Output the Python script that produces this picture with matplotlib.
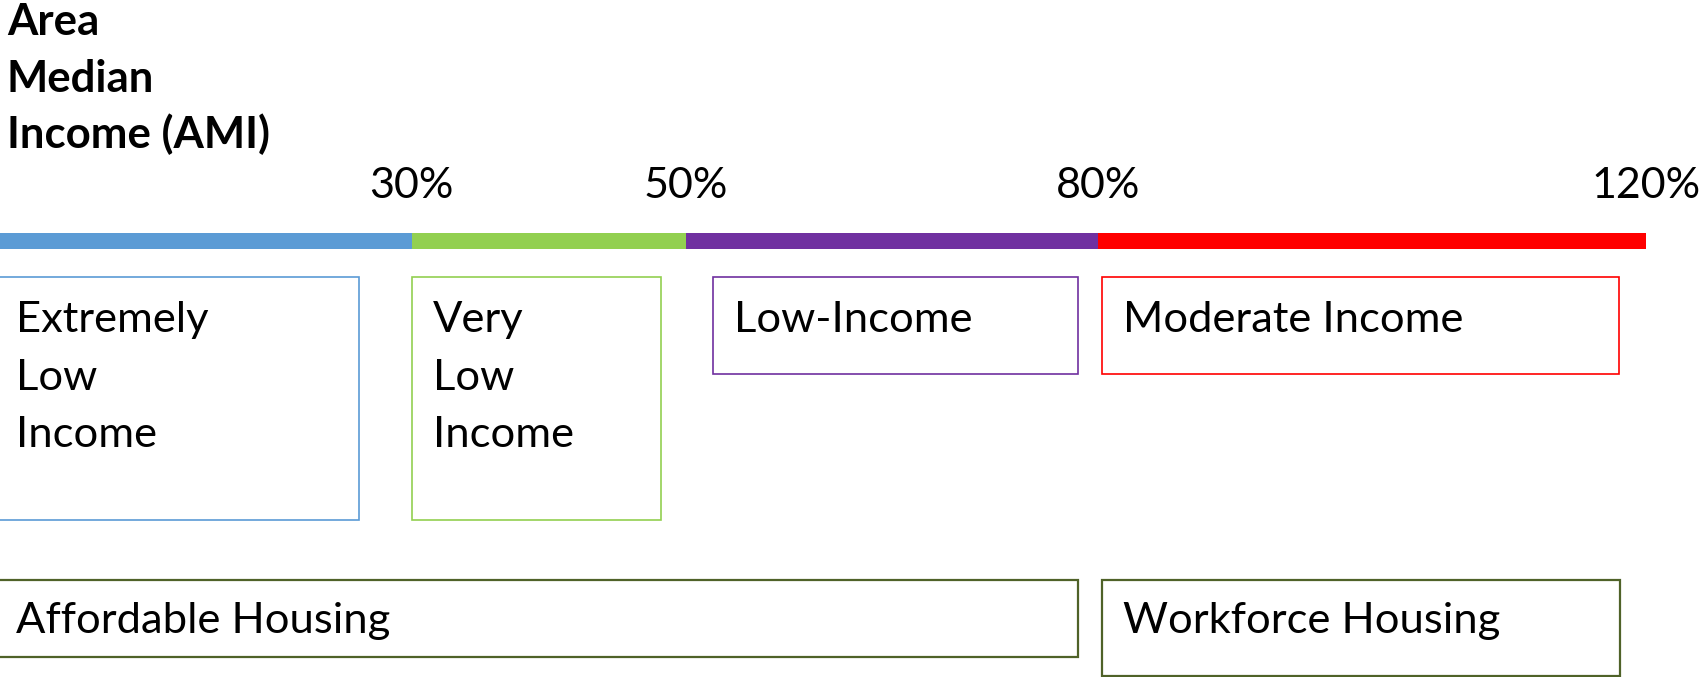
import matplotlib.pyplot as plt
from matplotlib.patches import Rectangle

# income tiers as share of Area Median Income (%)
tier_start = [0, 30, 50, 80]
tier_end = [30, 50, 80, 120]
tier_colors = ['#5B9BD5', '#92D050', '#7030A0', '#FF0000']
tick_values = [30, 50, 80, 120]
tick_labels = ['30%', '50%', '80%', '120%']

# category boxes under the bar (x in % AMI)
cat_names = ['Extremely\nLow\nIncome', 'Very\nLow\nIncome', 'Low-Income', 'Moderate Income']
cat_left = [-0.4, 30.0, 52.0, 80.3]
cat_right = [26.2, 48.2, 78.6, 118.0]

housing_names = ['Affordable Housing', 'Workforce Housing']
housing_left = [-0.4, 80.3]
housing_right = [78.6, 118.1]

W, H = 1706, 677
px_per_pct = 13.72

fig = plt.figure(figsize=(W / 100, H / 100), dpi=100)
ax = fig.add_axes([0, 0, 1, 1])
ax.set_xlim(0, W / px_per_pct)
ax.set_ylim(H, 0)  # y in pixels from the top
ax.axis('off')

font = 'Lato'
pad = 21 / px_per_pct
line_h = 57.5

# title
for i, line in enumerate(['Area', 'Median', 'Income (AMI)']):
    ax.text(0.5, 35 + i * 56.7, line, fontsize=31.5, fontweight='bold',
            family=font, va='baseline', ha='left')

# coloured AMI bar
ax.barh(241, [e - s for s, e in zip(tier_start, tier_end)], left=tier_start,
        height=16, color=tier_colors, edgecolor='none')

for v, lab in zip(tick_values, tick_labels):
    ax.text(v, 197.5, lab, fontsize=31, family=font, ha='center', va='baseline')

# tier boxes
for name, l, r, c in zip(cat_names, cat_left, cat_right, tier_colors):
    top = 277
    bottom = 520 if '\n' in name else 374
    ax.add_patch(Rectangle((l, top), r - l, bottom - top, fill=False,
                           edgecolor=c, lw=1.2))
    for j, line in enumerate(name.split('\n')):
        ax.text(l + pad, 332 + j * line_h, line, fontsize=31.3, family=font,
                va='baseline', ha='left')

# housing boxes
bottoms = [657, 676]
for name, l, r, b in zip(housing_names, housing_left, housing_right, bottoms):
    ax.add_patch(Rectangle((l, 580), r - l, b - 580, fill=False,
                           edgecolor='#4F6228', lw=1.6))
    ax.text(l + pad, 633, name, fontsize=31.3, family=font,
            va='baseline', ha='left')

fig.savefig('out.png', dpi=100)
